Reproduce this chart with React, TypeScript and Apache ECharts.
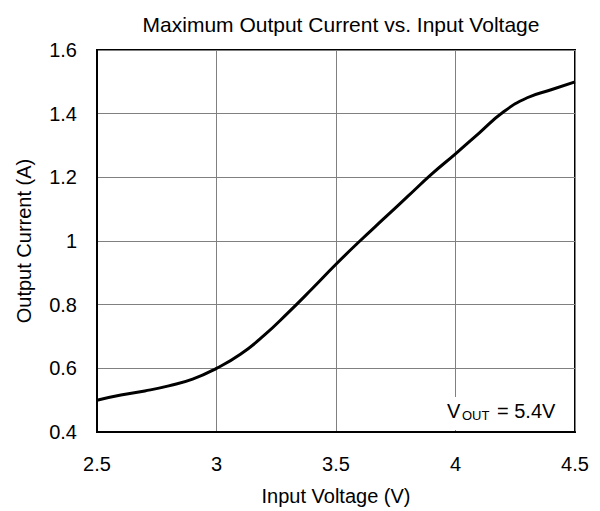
import React, { useEffect, useRef } from "react";
import * as echarts from "echarts";

const voltages = [2.5, 2.6, 2.7, 2.8, 2.9, 3.0, 3.1, 3.2, 3.3, 3.4, 3.5, 3.6, 3.7, 3.8, 3.9, 4.0, 4.1, 4.2, 4.3, 4.4, 4.5];
const currents = [0.5, 0.516, 0.529, 0.545, 0.566, 0.6, 0.644, 0.704, 0.775, 0.85, 0.927, 1.0, 1.07, 1.14, 1.21, 1.274, 1.34, 1.405, 1.45, 1.475, 1.5];

const titleText = "Maximum Output Current vs. Input Voltage";
const xName = "Input Voltage (V)";
const yName = "Output Current (A)";

const FONT = "Liberation Sans, Arial, sans-serif";

export default function App() {
  const ref = useRef<HTMLDivElement>(null);
  useEffect(() => {
    if (!ref.current) return;
    document.body.style.margin = "0";
    const chart = echarts.init(ref.current, undefined, { renderer: "svg" });
    chart.setOption({
      animation: false,
      backgroundColor: "#ffffff",
      title: {
        text: titleText,
        left: 336,
        textAlign: "center",
        top: 9,
        textStyle: { fontFamily: FONT, fontSize: 21, fontWeight: "normal", color: "#000" },
      },
      grid: {
        left: 97,
        right: 25,
        top: 50,
        bottom: 78,
        show: true,
        borderColor: "#000",
        borderWidth: 2,
        backgroundColor: "transparent",
      },
      xAxis: {
        type: "value",
        min: 2.5,
        max: 4.5,
        interval: 0.5,
        name: xName,
        nameLocation: "middle",
        nameGap: 54,
        nameTextStyle: { fontFamily: FONT, fontSize: 20, color: "#000" },
        axisLine: { show: true, lineStyle: { color: "#000", width: 2 } },
        axisTick: { show: false },
        axisLabel: { fontFamily: FONT, fontSize: 20, color: "#000", margin: 22, formatter: (v: number) => String(v) },
        splitLine: { show: true, lineStyle: { color: "#808080", width: 1 } },
      },
      yAxis: {
        type: "value",
        min: 0.4,
        max: 1.6,
        interval: 0.2,
        name: yName,
        nameLocation: "middle",
        nameGap: 63,
        nameTextStyle: { fontFamily: FONT, fontSize: 20, color: "#000" },
        axisLine: { show: true, lineStyle: { color: "#000", width: 2 } },
        axisTick: { show: false },
        axisLabel: {
          fontFamily: FONT,
          fontSize: 20,
          color: "#000",
          margin: 20,
          formatter: (v: number) => String(Math.round(v * 10) / 10),
        },
        splitLine: { show: true, lineStyle: { color: "#808080", width: 1 } },
      },
      series: [
        {
          type: "line",
          data: voltages.map((v, i) => [v, currents[i]]),
          smooth: true,
          symbol: "none",
          lineStyle: { color: "#000", width: 3 },
          z: 3,
        },
      ],
      graphic: [
        {
          type: "rect",
          shape: { x: 442, y: 397, width: 124, height: 33 },
          style: { fill: "#ffffff" },
          z: 10,
        },
        {
          type: "text",
          x: 447,
          y: 401,
          style: { text: "V", fontFamily: FONT, fontSize: 20, fill: "#000" },
          z: 11,
        },
        {
          type: "text",
          x: 462,
          y: 409,
          style: { text: "OUT", fontFamily: FONT, fontSize: 13, fill: "#000" },
          z: 11,
        },
        {
          type: "text",
          x: 497,
          y: 401,
          style: { text: "= 5.4V", fontFamily: FONT, fontSize: 20, fill: "#000" },
          z: 11,
        },
      ],
    });
    return () => chart.dispose();
  }, []);
  return <div ref={ref} style={{ width: 600, height: 511 }} />;
}
